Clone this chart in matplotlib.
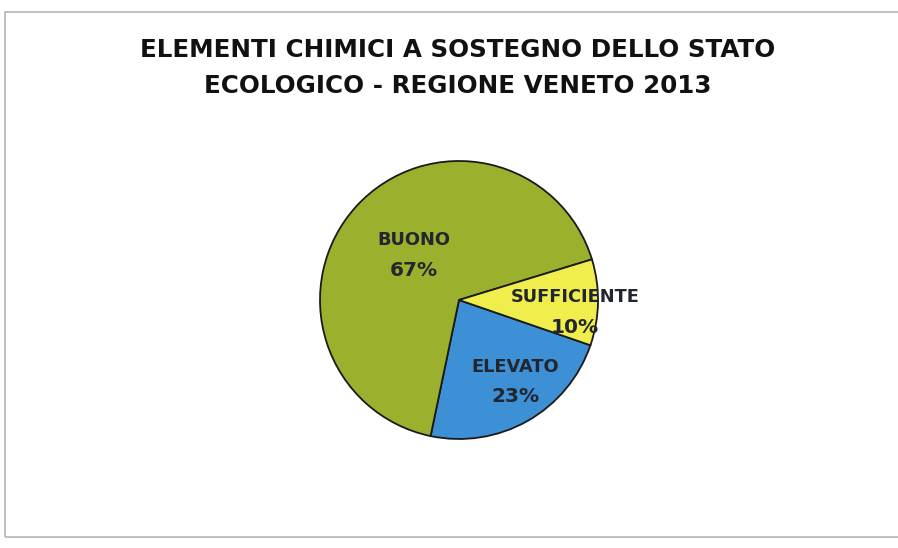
import matplotlib
matplotlib.use('Agg')
import matplotlib.pyplot as plt
import matplotlib.patches

# chart data
labels = ['ELEVATO', 'BUONO', 'SUFFICIENTE']
values = [23, 67, 10]
colors = ['#3d8fd6', '#9bb02c', '#f0ee4c']
title = 'ELEMENTI CHIMICI A SOSTEGNO DELLO STATO\nECOLOGICO - REGIONE VENETO 2013'

W, H = 898, 548
fig = plt.figure(figsize=(W / 100, H / 100), dpi=100)
fig.patch.set_facecolor('white')

# outer chart frame (left/top visible, thin grey)
frame = matplotlib.patches.Rectangle((5 / W, 1 - 537 / H), 1.0, (537 - 12) / H,
                                     transform=fig.transFigure, fill=False,
                                     edgecolor='#b4b4b4', linewidth=1.2)
fig.patches.append(frame)

fig.text(458 / W, 1 - 68 / H, title, ha='center', va='center',
         fontsize=17.7, fontweight='bold', color='#111111', linespacing=1.62)

# pie axes, centre (459, 300), radius 139 px
cx, cy, r = 459, 300, 139
ax = fig.add_axes([(cx - r) / W, 1 - (cy + r) / H, 2 * r / W, 2 * r / H])

wedges, _ = ax.pie(values, colors=colors, startangle=-19, counterclock=False,
                   radius=1.0, center=(0, 0),
                   wedgeprops=dict(edgecolor='#1a1a1a', linewidth=1.3))
ax.set_xlim(-1, 1)
ax.set_ylim(-1, 1)
ax.set_aspect('equal')
ax.axis('off')

# label positions (pixel coords in the picture): name line, percent line 30 px lower
label_pos = {'ELEVATO': (515, 367), 'BUONO': (414, 240), 'SUFFICIENTE': (575, 297)}
for lab, val in zip(labels, values):
    px, py = label_pos[lab]
    ax.text((px - cx) / r, -(py - cy) / r, lab,
            ha='center', va='center', fontsize=12.8, fontweight='bold',
            color='#22262e')
    ax.text((px - cx) / r, -(py + 30 - cy) / r, '%d%%' % val,
            ha='center', va='center', fontsize=14.5, fontweight='bold',
            color='#22262e')

fig.savefig('out.png', dpi=100)
